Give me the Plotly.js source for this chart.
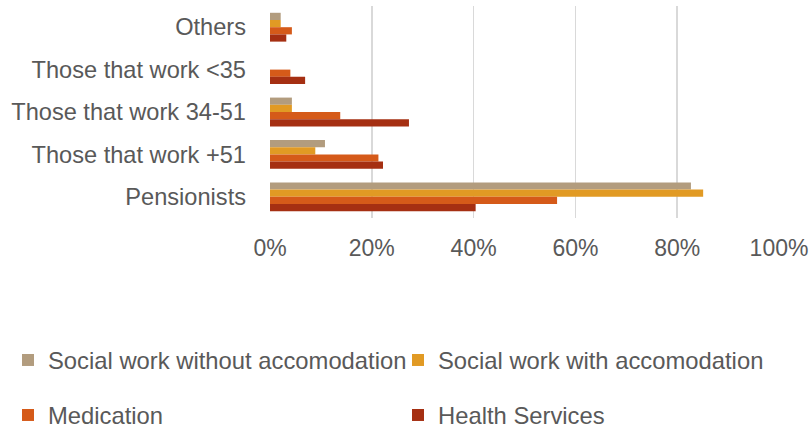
<!DOCTYPE html>
<html>
<head>
<meta charset="utf-8">
<script src="https://cdn.plot.ly/plotly-3.0.1.min.js"></script>
<style>html,body{margin:0;padding:0;background:#fff;}#chart{width:811px;height:427px;}</style>
</head>
<body>
<div id="chart"></div>
<script>
const categories = ["Others", "Those that work <35", "Those that work 34-51", "Those that work +51", "Pensionists"];
const socialWorkWithout = [2.1, 0, 4.3, 10.8, 82.7];
const socialWorkWith = [2.1, 0, 4.3, 8.9, 85.1];
const medication = [4.3, 4.0, 13.8, 21.3, 56.4];
const healthServices = [3.2, 6.9, 27.3, 22.2, 40.4];
const seriesNames = ["Social work without accomodation", "Social work with accomodation", "Medication", "Health Services"];
const seriesColors = ["#B29C7E", "#E19A24", "#D55A19", "#A52F12"];
const xTicks = [0, 20, 40, 60, 80, 100];

const values = [socialWorkWithout, socialWorkWith, medication, healthServices];
const legendIds = ["legend", "legend2", "legend3", "legend4"];
const traces = values.map((v, i) => ({
  type: "bar",
  orientation: "h",
  y: categories,
  x: v,
  name: seriesNames[i],
  marker: {color: seriesColors[i], line: {width: 0}},
  legend: legendIds[i],
  hoverinfo: "x+y+name"
}));

const baseFont = {family: "Liberation Sans, Arial, sans-serif", size: 23, color: "#595959"};
const catFont = Object.assign({}, baseFont, {size: 23.6});
const legFont = Object.assign({}, baseFont, {size: 23.8});

// legend slots: [left px, center y px]
const legendSlots = [[8, 360], [398, 360], [8, 415], [398, 415]];
function makeLegend(slot) {
  return {
    orientation: "h",
    xref: "container", yref: "container",
    x: slot[0] / 811, xanchor: "left",
    y: 1 - slot[1] / 427, yanchor: "middle",
    font: legFont,
    bgcolor: "rgba(0,0,0,0)",
    borderwidth: 0
  };
}

const layout = {
  width: 811, height: 427,
  paper_bgcolor: "#fff", plot_bgcolor: "#fff",
  font: baseFont,
  margin: {l: 270, r: 32, t: 6, b: 209},
  barmode: "group",
  bargap: 0.32,
  bargroupgap: 0,
  xaxis: {
    range: [0, 100],
    tickvals: xTicks,
    ticktext: xTicks.map(t => t + "%"),
    showgrid: true, gridcolor: "#D9D9D9", gridwidth: 1.5,
    zeroline: false, showline: false,
    ticks: "", ticklabelstandoff: 14,
    tickfont: baseFont, fixedrange: true
  },
  yaxis: {
    type: "category",
    categoryorder: "array", categoryarray: categories,
    autorange: "reversed",
    showgrid: false, zeroline: false, showline: false,
    ticks: "", ticklabelstandoff: 23,
    tickfont: catFont, fixedrange: true
  },
  showlegend: true
};
legendIds.forEach((id, i) => { layout[id] = makeLegend(legendSlots[i]); });

Plotly.newPlot("chart", traces, layout, {displayModeBar: false, staticPlot: true});
</script>
</body>
</html>
